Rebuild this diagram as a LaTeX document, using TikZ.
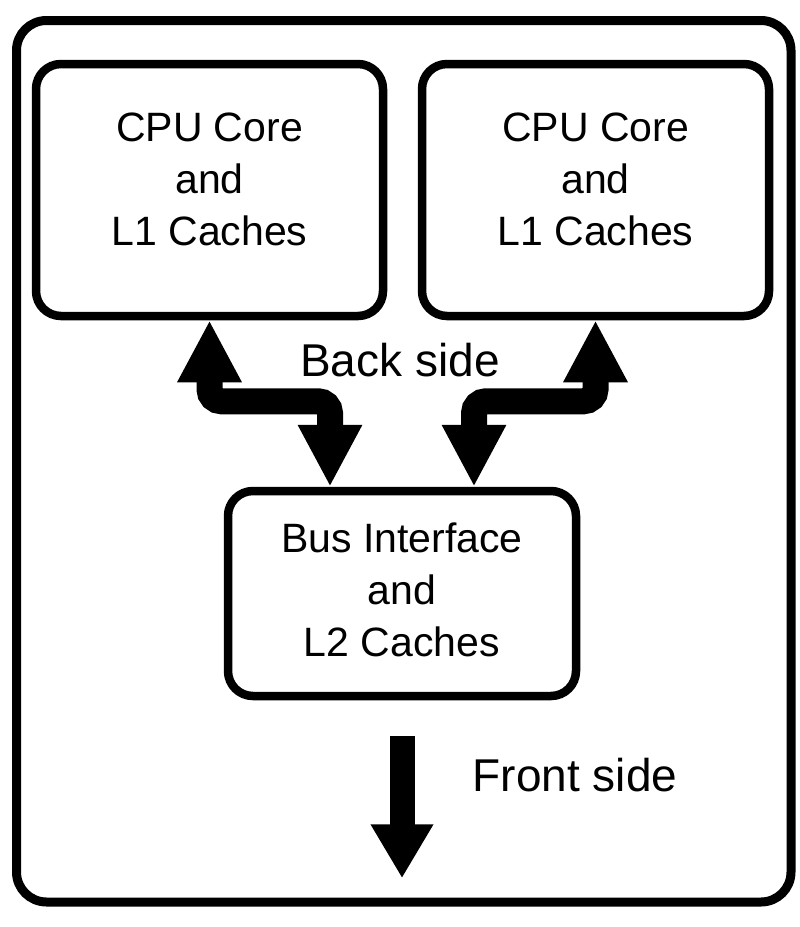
\documentclass[tikz,border=0pt]{standalone}
\usepackage{fontspec}
\setmainfont{Liberation Sans}
\usetikzlibrary{arrows.meta}
\begin{document}
\begin{tikzpicture}[x=1pt,y=-1pt,
  box/.style={draw,line width=8.5pt,rounded corners=25pt,inner sep=0pt,
    minimum width=347pt},
  txt/.style={align=center,inner sep=0pt,font=\fontsize{41}{52}\selectfont},
  fat/.style={line width=26pt,rounded corners=12pt,
    {Triangle[width=60pt,length=62pt]}-{Triangle[width=60pt,length=62pt]}},
  lab/.style={font=\fontsize{46}{55}\selectfont,inner sep=0pt}]
\useasboundingbox (0,0) rectangle (800,927);
\draw[line width=9pt,rounded corners=30pt] (16.5,20.5) rectangle (791,902);
\node[box,minimum height=252pt] (cpu1) at (209.5,190) {};
\node[box,minimum height=252pt] (cpu2) at (595.5,190) {};
\node[box,minimum width=348pt,minimum height=205pt] (bus) at (402,593.5) {};
\node[txt] (t1) at ([yshift=11pt]cpu1.center) {CPU Core\\and\\L1 Caches};
\node[txt] (t2) at ([yshift=11pt]cpu2.center) {CPU Core\\and\\L1 Caches};
\node[txt] (t3) at ([yshift=4pt]bus.center) {Bus Interface\\and\\L2 Caches};
\node[lab] (back) at (400,360) {Back side};
\node[lab] (front) at (575,775) {Front side};
\coordinate (fs) at ([yshift=-36pt]bus.south);
\coordinate (fe) at ([yshift=-178pt]bus.south);
\draw[fat] (cpu1.south) -- ++(0,81) -| ([xshift=-72pt]bus.north);
\draw[fat] (cpu2.south) -- ++(0,81) -| ([xshift=72pt]bus.north);
\draw[line width=25pt,-{Triangle[width=59pt,length=54pt]}] (fs) -- (fe);
\end{tikzpicture}
\end{document}
